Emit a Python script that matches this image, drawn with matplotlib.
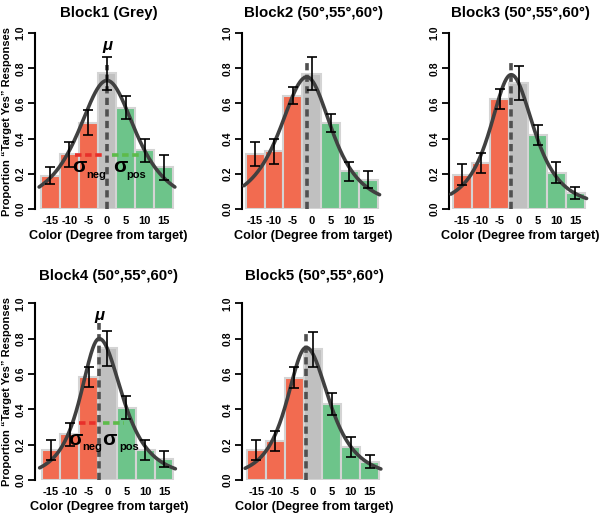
import matplotlib
matplotlib.use("Agg")
import matplotlib.pyplot as plt
import numpy as np

# --- data ------------------------------------------------------------------
DEGREES = [-15, -10, -5, 0, 5, 10, 15]
TICK_LABELS = ["-15", "-10", "-5", "0", "5", "10", "15"]
TITLES = [
    "Block1 (Grey)",
    "Block2 (50°,55°,60°)",
    "Block3 (50°,55°,60°)",
    "Block4 (50°,55°,60°)",
    "Block5 (50°,55°,60°)",
]

# proportion of "Target Yes" responses per colour offset
PROP_B1 = [0.19, 0.31, 0.49, 0.77, 0.575, 0.333, 0.237]
PROP_B2 = [0.314, 0.328, 0.644, 0.769, 0.489, 0.214, 0.167]
PROP_B3 = [0.195, 0.261, 0.625, 0.716, 0.419, 0.205, 0.091]
PROP_B4 = [0.17, 0.26, 0.585, 0.745, 0.409, 0.17, 0.119]
PROP_B5 = [0.17, 0.22, 0.58, 0.739, 0.428, 0.186, 0.104]

# half length of the error bars
ERR_B1 = [0.05, 0.07, 0.07, 0.093, 0.065, 0.065, 0.07]
ERR_B2 = [0.068, 0.07, 0.048, 0.092, 0.053, 0.055, 0.048]
ERR_B3 = [0.059, 0.055, 0.056, 0.097, 0.056, 0.06, 0.036]
ERR_B4 = [0.057, 0.065, 0.057, 0.1, 0.064, 0.054, 0.043]
ERR_B5 = [0.055, 0.057, 0.062, 0.1, 0.062, 0.055, 0.038]

# fitted asymmetric curve: centre, peak height, left / right width
MU = [0.0, -1.3, -2.0, -2.2, -1.8]
PEAK = [0.73, 0.75, 0.763, 0.80, 0.75]
SIG_NEG = [8.5, 8.0, 6.2, 5.5, 5.7]
SIG_POS = [8.5, 7.4, 6.7, 6.8, 6.8]
MU_TOP = [0.82, 0.84, 0.83, 0.89, 0.84]  # how high the dashed mu line goes

PROPS = [PROP_B1, PROP_B2, PROP_B3, PROP_B4, PROP_B5]
ERRS = [ERR_B1, ERR_B2, ERR_B3, ERR_B4, ERR_B5]

# sigma annotation (Block1 and Block4 only): level, red span, green span
SIGMA_LEVEL = {0: 0.309, 3: 0.32}
SIGMA_NEG_SPAN = {0: (-8.6, -0.4), 3: (-7.5, -2.2)}
SIGMA_POS_SPAN = {0: (1.2, 9.4), 3: (-1.3, 4.4)}

RED = "#F26B50"
GREY = "#C0C0C0"
GREEN = "#6DC48A"
BAR_COLORS = [RED, RED, RED, GREY, GREEN, GREEN, GREEN]

plt.rcParams.update(
    {
        "font.family": ["Liberation Sans", "DejaVu Sans"],
        "font.weight": "bold",
        "axes.labelweight": "bold",
        "axes.titleweight": "bold",
    }
)

W, H = 600, 517
PX_PER_UNIT = 3.77
# (y-axis x pixel, x pixel of degree 0, pixel of y=1, pixel of y=0)
PANELS = [
    (35, 107, 33, 209),
    (242, 311.7, 33, 209),
    (449, 518.7, 33, 209),
    (35, 107.5, 303.3, 480),
    (242, 313, 303.3, 480),
]
TITLE_PAD = [11.5, 11.5, 11.5, 16.5, 16.5]
X_RIGHT = 19.0
# where the sigma / mu letters sit: (sigma y, subscript y, x of σ, neg, σ, pos)
SIGMA_TEXT = {
    0: (0.24, 0.195, -7.3, -2.9, 3.5, 7.8),
    3: (0.23, 0.185, -8.6, -4.0, 0.4, 5.8),
}


def curve(x, mu, peak, s_neg, s_pos):
    s = np.where(x < mu, s_neg, s_pos)
    return peak * (1 + (x - mu) ** 2 / (2 * s**2)) ** -1.5


fig = plt.figure(figsize=(W / 100, H / 100), dpi=100)

for i, (spine_px, zero_px, top_px, bot_px) in enumerate(PANELS):
    x_left = (spine_px - zero_px) / PX_PER_UNIT
    width_px = (X_RIGHT - x_left) * PX_PER_UNIT
    ax = fig.add_axes(
        [spine_px / W, (H - bot_px) / H, width_px / W, (bot_px - top_px) / H]
    )
    ax.set_xlim(x_left, X_RIGHT)
    ax.set_ylim(0, 1)

    ax.bar(DEGREES, PROPS[i], width=5, color=BAR_COLORS, edgecolor="#D4D4D4",
           linewidth=1.5, zorder=1)

    ax.plot([MU[i], MU[i]], [0, MU_TOP[i]], color="#505050", lw=2.6,
            linestyle=(0, (2.0, 1.2)), zorder=2)

    xs = np.linspace(-18, 18, 300)
    ax.plot(xs, curve(xs, MU[i], PEAK[i], SIG_NEG[i], SIG_POS[i]),
            color="#404040", lw=2.6, zorder=3, solid_capstyle="round")

    ax.errorbar(DEGREES, PROPS[i], yerr=ERRS[i], fmt="none", ecolor="black",
                elinewidth=1.2, capsize=3.6, capthick=1.2, zorder=4)

    if i in SIGMA_LEVEL:
        lvl = SIGMA_LEVEL[i]
        ax.plot(SIGMA_NEG_SPAN[i], [lvl, lvl], color="#E8302A", lw=2.6,
                linestyle=(0, (1.8, 1.0)), zorder=2.5)
        ax.plot(SIGMA_POS_SPAN[i], [lvl, lvl], color="#5DBB4A", lw=2.6,
                linestyle=(0, (1.8, 1.0)), zorder=2.5)
        sy, suby, xs_n, xn, xs_p, xp = SIGMA_TEXT[i]
        ax.text(xs_n, sy, "σ", fontsize=15, ha="center", va="center", zorder=5)
        ax.text(xn, suby, "neg", fontsize=8, ha="center", va="center", zorder=5)
        ax.text(xs_p, sy, "σ", fontsize=15, ha="center", va="center", zorder=5)
        ax.text(xp, suby, "pos", fontsize=8, ha="center", va="center", zorder=5)
        ax.text(MU[i], 0.93, "μ", fontsize=12, style="italic", ha="center",
                va="center")
        ax.set_ylabel("Proportion “Target Yes” Responses", fontsize=8,
                      labelpad=2)

    # title and x label are centred on the 0 column, as in the original
    zero_frac = (0 - x_left) / (X_RIGHT - x_left) + 0.01
    ax.set_title(TITLES[i], fontsize=10.8, pad=TITLE_PAD[i], x=zero_frac)
    ax.set_xlabel("Color (Degree from target)", fontsize=9.1, labelpad=3)
    ax.xaxis.label.set_x(zero_frac)

    ax.set_xticks(DEGREES)
    ax.set_xticklabels(TICK_LABELS, fontsize=8)
    ax.tick_params(axis="x", length=0, pad=5)
    ax.set_yticks([0, 0.2, 0.4, 0.6, 0.8, 1.0])
    ax.set_yticklabels(["0.0", "0.2", "0.4", "0.6", "0.8", "1.0"],
                       fontsize=7.5, rotation=90, va="center")
    ax.tick_params(axis="y", length=5, width=1.3, pad=2)

    for side in ("top", "right", "bottom"):
        ax.spines[side].set_visible(False)
    ax.spines["left"].set_linewidth(1.5)
    ax.spines["left"].set_bounds(0, 1)
    ax.set_facecolor("none")

fig.savefig("out.png", dpi=100)
